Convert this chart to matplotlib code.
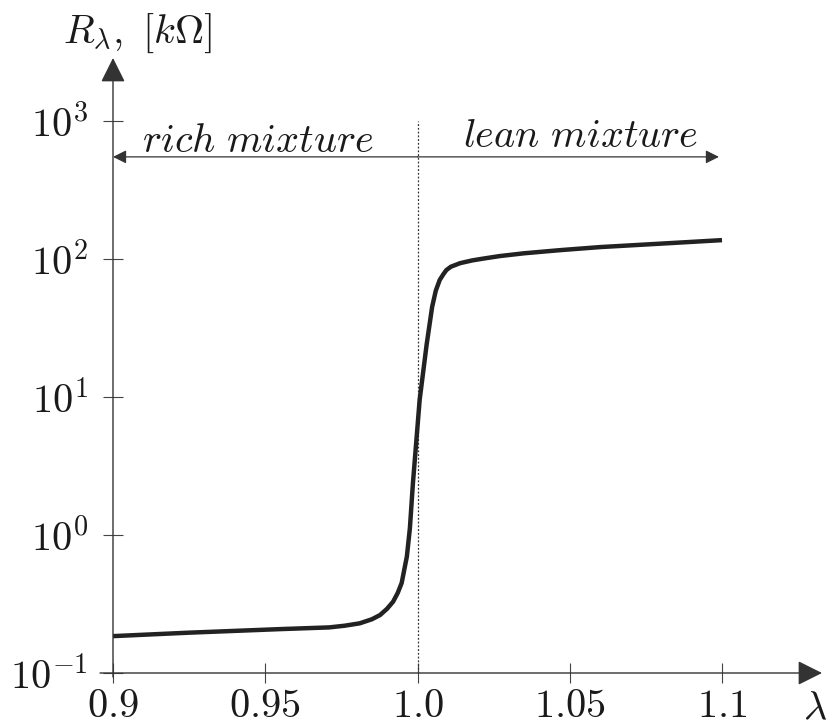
import numpy as np
import matplotlib
matplotlib.use('Agg')
import matplotlib.pyplot as plt

plt.rcParams['mathtext.fontset'] = 'cm'
plt.rcParams['font.family'] = 'serif'

# readings from the curve: air ratio lambda and sensor resistance in kOhm
lam = [0.900, 0.925, 0.955, 0.971, 0.976, 0.981, 0.985, 0.9877, 0.990,
       0.992, 0.9935, 0.9948, 0.9965, 0.9975, 0.9985, 1.0007, 1.0030,
       1.0048, 1.0060, 1.0073, 1.0085, 1.0095, 1.011, 1.014, 1.018, 1.022,
       1.027, 1.035, 1.047, 1.060, 1.082, 1.100]
R_kohm = [0.185, 0.196, 0.208, 0.214, 0.220, 0.229, 0.245, 0.263, 0.292,
          0.329, 0.380, 0.449, 0.697, 1.12, 2.38, 9.5, 24.0,
          44.9, 58.9, 70.5, 77.6, 83.2, 88.0, 93.3, 97.7, 101,
          105, 110, 116, 122, 130, 137]

x_ticks = [0.9, 0.95, 1.0, 1.05, 1.1]
x_labels = ['0.9', '0.95', '1.0', '1.05', '1.1']
y_ticks = [1e-1, 1e0, 1e1, 1e2, 1e3]
y_labels = ['-1', '0', '1', '2', '3']

fig = plt.figure(figsize=(8.32, 7.27), dpi=100)
ax = fig.add_axes([100/832, 50/727, 722/832, 619/727])
ax.set_yscale('log')
x0, x1 = 0.89573, 1.13284
y0, y1 = 10**-1.029, 10**3.4565
ax.set_xlim(x0, x1)
ax.set_ylim(y0, y1)

for s in ax.spines.values():
    s.set_visible(False)
ax.spines['left'].set_position(('data', 0.9))
ax.spines['bottom'].set_position(('data', 0.1))

ax.set_xticks(x_ticks)
ax.set_xticklabels(['$' + t + '$' for t in x_labels])
ax.set_yticks(y_ticks)
ax.set_yticklabels(['$10^{' + t + '}$' for t in y_labels])
ax.minorticks_off()
ax.tick_params(direction='inout', length=14, width=0.8, color='#444444',
               labelsize=29, labelcolor='#1a1a1a')
ax.tick_params(axis='x', pad=4)
ax.tick_params(axis='y', pad=11)

# axes with arrow heads
ax.annotate('', xy=(x1, 0.1), xytext=(x0, 0.1),
            arrowprops=dict(arrowstyle='-|>', mutation_scale=38, lw=1.0,
                            color='#333333', shrinkA=0, shrinkB=0))
ax.annotate('', xy=(0.9, y1), xytext=(0.9, y0),
            arrowprops=dict(arrowstyle='-|>', mutation_scale=38, lw=1.0,
                            color='#333333', shrinkA=0, shrinkB=0))

# stoichiometric line
ax.plot([1.0, 1.0], [0.1, 1e3], color='#333333', lw=0.9, ls=(0, (1.5, 1.5)))

# rich / lean arrows
y_arr = 10**2.74
ax.annotate('', xy=(0.9, y_arr), xytext=(1.0, y_arr),
            arrowprops=dict(arrowstyle='-|>', mutation_scale=20, lw=0.9,
                            color='#333333', shrinkA=0, shrinkB=0))
ax.annotate('', xy=(1.099, y_arr), xytext=(1.0, y_arr),
            arrowprops=dict(arrowstyle='-|>', mutation_scale=20, lw=0.9,
                            color='#333333', shrinkA=0, shrinkB=0))
ax.text(0.9475, 10**2.85, r'$\mathit{rich\ mixture}$', ha='center', va='center',
        fontsize=29, color='#1a1a1a')
ax.text(1.0535, 10**2.89, r'$\mathit{lean\ mixture}$', ha='center', va='center',
        fontsize=29, color='#1a1a1a')

ax.plot(lam, R_kohm, color='#222222', lw=3.2, solid_joinstyle='round',
        solid_capstyle='butt')

ax.text(1.1305, 10**-1.26, r'$\lambda$', ha='center', va='center',
        fontsize=29, color='#1a1a1a')
fig.text(63/832, 1 - 33/727, r'$R_\lambda,\ [k\Omega]$', ha='left',
         va='center', fontsize=29, color='#1a1a1a')

fig.savefig('out.png', dpi=100)
